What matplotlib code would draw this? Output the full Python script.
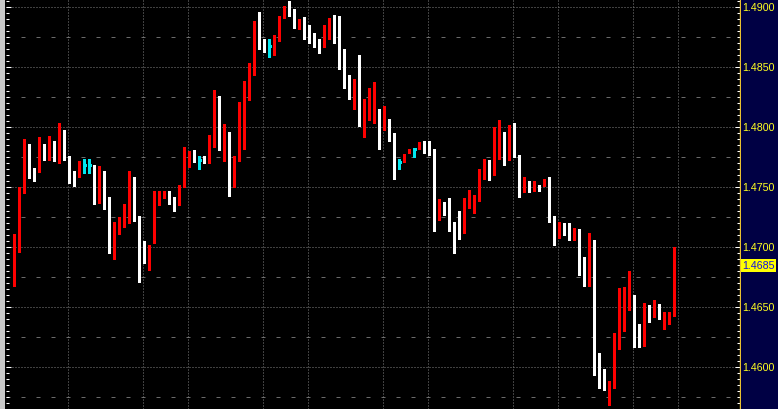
import numpy as np
import matplotlib
matplotlib.use("Agg")
import matplotlib.pyplot as plt
from matplotlib.ticker import MultipleLocator
from matplotlib.patches import Rectangle

# candles, oldest first
opens = [1.4680, 1.4701, 1.4746, 1.4781, 1.4766, 1.4764, 1.4784, 1.4774, 1.4782, 1.4774,
         1.4792, 1.4776, 1.4764, 1.4762, 1.4769, 1.4769, 1.4769, 1.4747, 1.4760, 1.4732,
         1.4701, 1.4711, 1.4717, 1.4721, 1.4747, 1.4726, 1.4698, 1.4688, 1.4704, 1.4736,
         1.4741, 1.4746, 1.4741, 1.4736, 1.4751, 1.4773, 1.4777, 1.4773, 1.4774, 1.4771,
         1.4789, 1.4826, 1.4785, 1.4792, 1.4755, 1.4776, 1.4811, 1.4824, 1.4847, 1.4882,
         1.4874, 1.4868, 1.4868, 1.4874, 1.4891, 1.4899, 1.4896, 1.4883, 1.4887, 1.4874,
         1.4871, 1.4868, 1.4867, 1.4874, 1.4889, 1.4886, 1.4863, 1.4835, 1.4833, 1.4839,
         1.4805, 1.4810, 1.4814, 1.4815, 1.4799, 1.4807, 1.4790, 1.4771, 1.4772, 1.4780,
         1.4782, 1.4782, 1.4787, 1.4784, 1.4781, 1.4726, 1.4737, 1.4736, 1.4717, 1.4716,
         1.4713, 1.4735, 1.4740, 1.4740, 1.4762, 1.4769, 1.4760, 1.4787, 1.4792, 1.4777,
         1.4800, 1.4777, 1.4749, 1.4755, 1.4751, 1.4752, 1.4752, 1.4756, 1.4726, 1.4712,
         1.4716, 1.4715, 1.4708, 1.4714, 1.4691, 1.4688, 1.4702, 1.4606, 1.4592, 1.4581,
         1.4584, 1.4619, 1.4648, 1.4648, 1.4658, 1.4630, 1.4625, 1.4644, 1.4643, 1.4653,
         1.4643, 1.4644, 1.4644]
highs = [1.4711, 1.4750, 1.4790, 1.4786, 1.4766, 1.4792, 1.4786, 1.4793, 1.4789, 1.4804,
         1.4798, 1.4776, 1.4764, 1.4772, 1.4774, 1.4774, 1.4769, 1.4768, 1.4764, 1.4742,
         1.4721, 1.4725, 1.4736, 1.4764, 1.4759, 1.4726, 1.4705, 1.4702, 1.4747, 1.4747,
         1.4747, 1.4747, 1.4742, 1.4752, 1.4784, 1.4780, 1.4781, 1.4776, 1.4776, 1.4794,
         1.4831, 1.4826, 1.4803, 1.4796, 1.4776, 1.4821, 1.4839, 1.4854, 1.4889, 1.4896,
         1.4874, 1.4874, 1.4877, 1.4893, 1.4901, 1.4905, 1.4899, 1.4890, 1.4892, 1.4885,
         1.4879, 1.4874, 1.4885, 1.4891, 1.4894, 1.4893, 1.4865, 1.4844, 1.4840, 1.4860,
         1.4824, 1.4833, 1.4838, 1.4815, 1.4818, 1.4807, 1.4795, 1.4774, 1.4778, 1.4782,
         1.4783, 1.4788, 1.4789, 1.4789, 1.4782, 1.4740, 1.4738, 1.4741, 1.4721, 1.4730,
         1.4741, 1.4748, 1.4744, 1.4765, 1.4774, 1.4773, 1.4800, 1.4806, 1.4796, 1.4802,
         1.4804, 1.4777, 1.4759, 1.4755, 1.4755, 1.4752, 1.4757, 1.4759, 1.4726, 1.4721,
         1.4720, 1.4720, 1.4716, 1.4715, 1.4692, 1.4712, 1.4706, 1.4612, 1.4599, 1.4589,
         1.4629, 1.4666, 1.4667, 1.4680, 1.4660, 1.4636, 1.4654, 1.4652, 1.4656, 1.4653,
         1.4646, 1.4646, 1.4700]
lows = [1.4668, 1.4696, 1.4745, 1.4758, 1.4755, 1.4763, 1.4773, 1.4773, 1.4772, 1.4770,
        1.4773, 1.4754, 1.4751, 1.4759, 1.4762, 1.4762, 1.4736, 1.4737, 1.4732, 1.4695,
        1.4690, 1.4711, 1.4717, 1.4720, 1.4722, 1.4671, 1.4687, 1.4681, 1.4704, 1.4735,
        1.4741, 1.4736, 1.4730, 1.4735, 1.4750, 1.4767, 1.4771, 1.4765, 1.4770, 1.4770,
        1.4784, 1.4781, 1.4772, 1.4743, 1.4750, 1.4772, 1.4782, 1.4823, 1.4844, 1.4865,
        1.4863, 1.4859, 1.4860, 1.4872, 1.4891, 1.4893, 1.4883, 1.4882, 1.4874, 1.4870,
        1.4867, 1.4862, 1.4867, 1.4874, 1.4870, 1.4849, 1.4833, 1.4824, 1.4815, 1.4801,
        1.4792, 1.4806, 1.4804, 1.4782, 1.4798, 1.4789, 1.4757, 1.4765, 1.4771, 1.4779,
        1.4775, 1.4782, 1.4779, 1.4777, 1.4714, 1.4723, 1.4727, 1.4714, 1.4695, 1.4707,
        1.4712, 1.4733, 1.4729, 1.4739, 1.4757, 1.4756, 1.4760, 1.4774, 1.4769, 1.4773,
        1.4775, 1.4742, 1.4746, 1.4746, 1.4747, 1.4747, 1.4751, 1.4721, 1.4702, 1.4708,
        1.4710, 1.4706, 1.4706, 1.4677, 1.4668, 1.4668, 1.4594, 1.4583, 1.4581, 1.4569,
        1.4583, 1.4615, 1.4630, 1.4648, 1.4617, 1.4617, 1.4618, 1.4638, 1.4642, 1.4640,
        1.4632, 1.4636, 1.4643]
closes = [1.4702, 1.4744, 1.4782, 1.4767, 1.4764, 1.4784, 1.4774, 1.4781, 1.4774, 1.4792,
          1.4775, 1.4764, 1.4762, 1.4769, 1.4769, 1.4769, 1.4747, 1.4759, 1.4732, 1.4701,
          1.4712, 1.4719, 1.4722, 1.4747, 1.4726, 1.4698, 1.4687, 1.4702, 1.4736, 1.4741,
          1.4746, 1.4742, 1.4736, 1.4750, 1.4773, 1.4776, 1.4774, 1.4773, 1.4771, 1.4789,
          1.4826, 1.4785, 1.4792, 1.4755, 1.4776, 1.4811, 1.4824, 1.4848, 1.4882, 1.4874,
          1.4868, 1.4868, 1.4874, 1.4891, 1.4899, 1.4896, 1.4884, 1.4888, 1.4874, 1.4872,
          1.4869, 1.4867, 1.4874, 1.4889, 1.4885, 1.4863, 1.4838, 1.4834, 1.4839, 1.4806,
          1.4810, 1.4814, 1.4815, 1.4799, 1.4808, 1.4790, 1.4772, 1.4771, 1.4776, 1.4781,
          1.4782, 1.4788, 1.4783, 1.4780, 1.4725, 1.4737, 1.4736, 1.4717, 1.4716, 1.4714,
          1.4735, 1.4741, 1.4741, 1.4761, 1.4770, 1.4760, 1.4788, 1.4796, 1.4776, 1.4800,
          1.4777, 1.4748, 1.4755, 1.4752, 1.4752, 1.4751, 1.4756, 1.4726, 1.4711, 1.4716,
          1.4715, 1.4707, 1.4714, 1.4692, 1.4687, 1.4701, 1.4606, 1.4592, 1.4581, 1.4583,
          1.4619, 1.4649, 1.4649, 1.4658, 1.4630, 1.4625, 1.4646, 1.4643, 1.4654, 1.4642,
          1.4644, 1.4645, 1.4685]

# bar indices where the vertical (session) grid lines sit
session_bars = [11, 26, 35, 50, 59, 74, 83, 100, 109, 124, 133]
price_labels = ["1.4900", "1.4850", "1.4800", "1.4750", "1.4700", "1.4650", "1.4600"]
last_price = "1.4685"

o = np.array(opens)
h = np.array(highs)
l = np.array(lows)
c = np.array(closes)
x = np.arange(len(o))

up = c > o
down = c < o
flat = c == o

fig = plt.figure(figsize=(7.78, 4.10), dpi=100, facecolor="black")
W, H = 778.0, 410.0
ax = fig.add_axes([6 / W, 0, (740 - 6) / W, 1])
ax.set_facecolor("black")
ax.set_xlim(-1.66, 145.14)
ax.set_ylim(1.456525, 1.490692)

grid_col = "#808080"
for v in [float(s) for s in price_labels]:
    ax.axhline(v, color=grid_col, lw=0.72, ls=(0, (1, 2)), zorder=1)
    ax.axhline(v - 0.0025, color="#6a6a6a", lw=0.72, ls=(0, (4, 11)), zorder=1)
for b in session_bars:
    ax.axvline(b - 0.2, color=grid_col, lw=0.72, ls=(0, (1, 2)), zorder=1)

red = "#ff0000"
white = "#ffffff"
cyan = "#00e8f0"
cols = np.where(up, red, np.where(down, white, cyan))

ax.vlines(x, l, h, colors=cols, lw=0.75, antialiased=False, zorder=2)
body_lo = np.minimum(o, c)
body_h = np.maximum(np.abs(c - o), 0.00009)
m = ~flat
ax.bar(x[m], body_h[m], bottom=body_lo[m], width=0.6, color=cols[m],
       linewidth=0, antialiased=False, zorder=3)
ax.hlines(o[flat], x[flat] - 0.3, x[flat] + 0.3, colors=cyan, lw=0.75,
          antialiased=False, zorder=3)

ax.yaxis.set_major_locator(MultipleLocator(0.005))
ax.yaxis.set_minor_locator(MultipleLocator(0.0005))
ax.tick_params(axis="y", which="both", direction="in", left=True, right=True,
               labelleft=False, labelright=False, color="white", width=0.75)
ax.tick_params(axis="y", which="major", length=3.6)
ax.tick_params(axis="y", which="minor", length=2.2)
ax.set_xticks([])
for s in ["left", "top", "bottom"]:
    ax.spines[s].set_visible(False)
ax.spines["right"].set_color("#e8c030")
ax.spines["right"].set_linewidth(1.0)

# price scale panel
ax2 = fig.add_axes([741 / W, 0, 37 / W, 1])
ax2.set_facecolor("#000044")
ax2.set_ylim(ax.get_ylim())
ax2.set_xlim(0, 1)
ax2.set_xticks([])
ax2.set_yticks([])
for s in ax2.spines.values():
    s.set_visible(False)
fnt = ["Liberation Sans", "DejaVu Sans"]
for lab in price_labels:
    ax2.text(0.04, float(lab), lab, color="#ffff20", fontsize=7.7, family=fnt,
             va="center", ha="left")
ax2.text(0.04, float(last_price), last_price, color="#1010e0", fontsize=7.7,
         family=fnt, va="center", ha="left",
         bbox=dict(facecolor="#ffff00", edgecolor="none", pad=1.0))

# window border strip on the left
fig.patches.append(Rectangle((0, 0), 5 / W, 1, transform=fig.transFigure,
                             facecolor="#c8c8c8", edgecolor="none"))

fig.savefig("out.png", dpi=100, facecolor="black")
